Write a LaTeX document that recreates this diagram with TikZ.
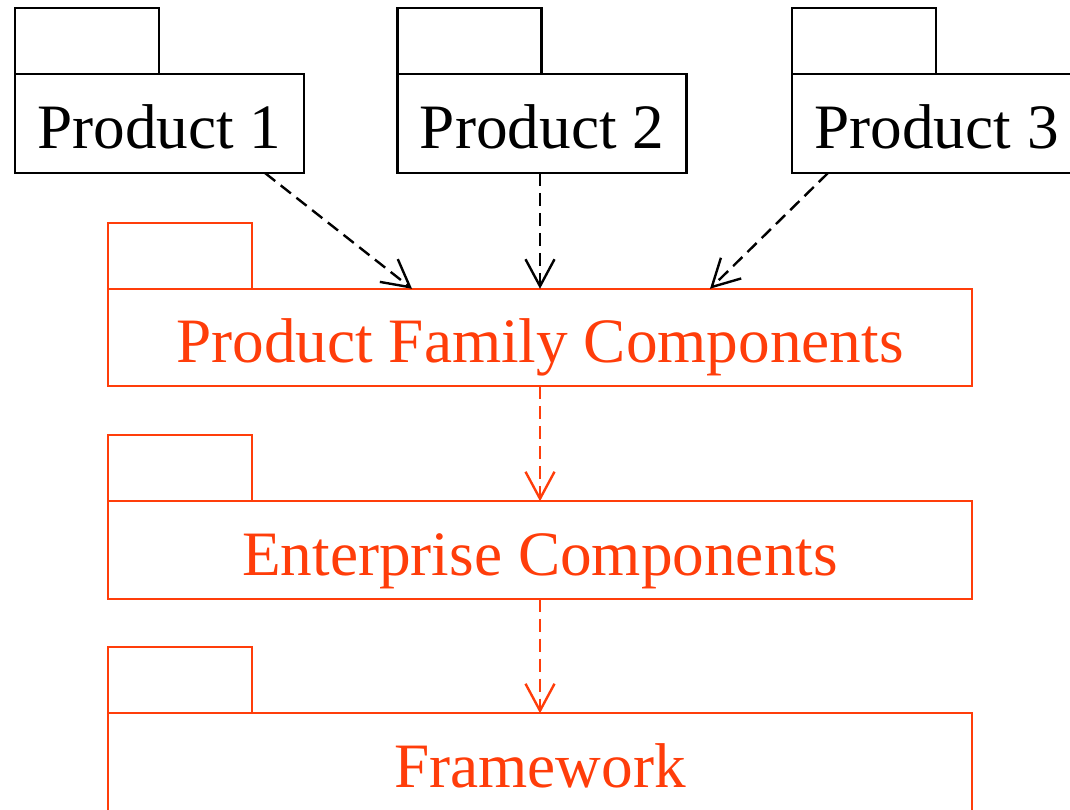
\documentclass[tikz,border=0pt]{standalone}
\usepackage{fontspec}
\setmainfont{Liberation Serif}
\usepackage{xcolor}
\usepackage{tikz}
\usetikzlibrary{arrows.meta, positioning}

\definecolor{famred}{RGB}{255,61,10}

\tikzset{
    pkgbody/.style={draw, line width=0.048cm, inner sep=0pt, outer sep=0pt,
        font=\fontsize{36}{43}\selectfont, text height=29pt, text depth=0pt},
    pkgtab/.style={draw, line width=0.048cm, inner sep=0pt, outer sep=0pt,
        minimum width=2.88cm, minimum height=1.32cm, anchor=south west},
    prodbody/.style={pkgbody, minimum width=5.78cm, minimum height=1.98cm},
    layerbody/.style={pkgbody, famred, minimum width=17.28cm, minimum height=1.95cm},
    dep/.style={line width=0.048cm, dash pattern=on 0.26cm off 0.14cm,
        -{Straight Barb[length=0.54cm, width=0.58cm]}}
}

\begin{document}
\begin{tikzpicture}[x=0.02cm, y=-0.02cm]
        \useasboundingbox (0,0) rectangle (1070,809);

        % Products --  --  --  --  --  --  --  --  --  --  --  --  --  --
        \node[prodbody] (p1) at (159.5,123.5) {Product 1};
        \node[pkgtab] (p1tab) at (p1.north west) {};

        \node[prodbody] (p2) at (542,123.5) {Product 2};
        \node[pkgtab] (p2tab) at (p2.north west) {};

        \node[prodbody] (p3) at (936.5,123.5) {Product 3};
        \node[pkgtab] (p3tab) at (p3.north west) {};
        %  --  --  --  --  --  --  --  --  --  --  --  --  --  --  --  --

        % Layers --  --  --  --  --  --  --  --  --  --  --  --  --  --  -
        \node[layerbody] (pfc) at (540,337.5) {Product Family Components};
        \node[pkgtab, famred] (pfctab) at (pfc.north west) {};

        \node[layerbody] (ent) at (540,550) {Enterprise Components};
        \node[pkgtab, famred] (enttab) at (ent.north west) {};

        \node[layerbody] (fw) at (540,762) {Framework};
        \node[pkgtab, famred] (fwtab) at (fw.north west) {};
        %  --  --  --  --  --  --  --  --  --  --  --  --  --  --  --  --

        % Dependencies --  --  --  --  --  --  --  --  --  --  --  --  --
        \draw[dep] ([xshift=2.11cm]p1.south) -- ([xshift=-2.56cm]pfc.north);
        \draw[dep] (p2.south -| pfc.north) -- (pfc.north);
        \draw[dep] ([xshift=-2.17cm]p3.south) -- ([xshift=3.4cm]pfc.north);

        \draw[dep, famred] (pfc.south) -- (ent.north);
        \draw[dep, famred] (ent.south) -- (fw.north);
        %  --  --  --  --  --  --  --  --  --  --  --  --  --  --  --  --
\end{tikzpicture}
\end{document}
